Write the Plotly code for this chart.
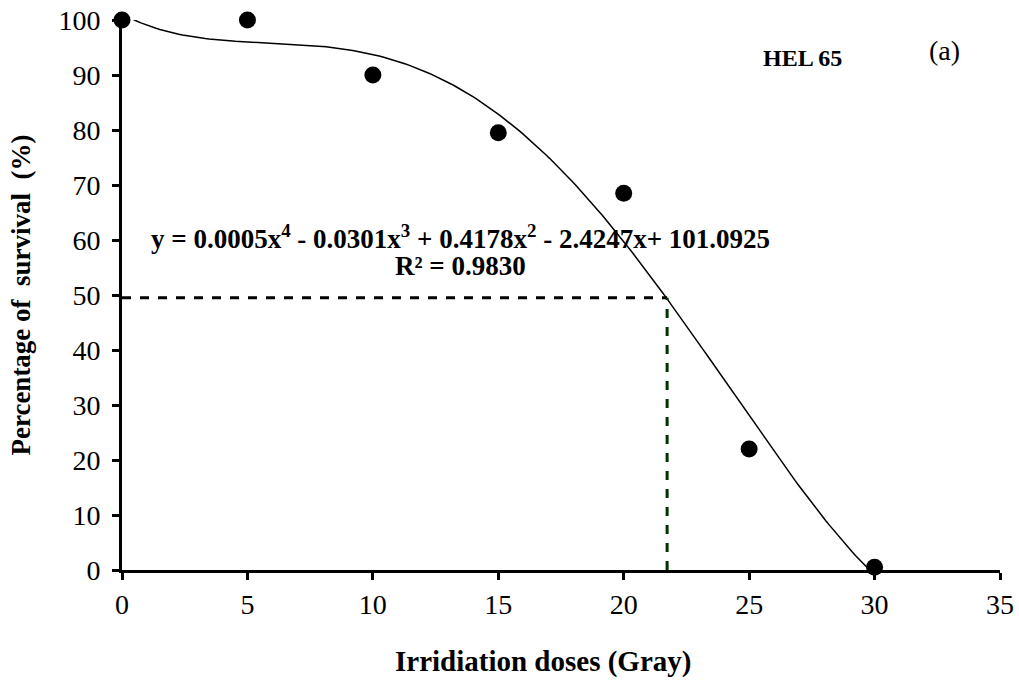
import numpy as np
import plotly.graph_objects as go

# observed survival per irradiation dose
doses = [0, 5, 10, 15, 20, 25, 30]
survival = [100, 100, 90, 79.5, 68.5, 22, 0.5]

# LD50 read-off
ld50_dose = 21.73
ld50_survival = 49.5

x_ticks = [0, 5, 10, 15, 20, 25, 30, 35]
y_ticks = [0, 10, 20, 30, 40, 50, 60, 70, 80, 90, 100]

equation = "y = 0.0005x<sup>4</sup> - 0.0301x<sup>3</sup> + 0.4178x<sup>2</sup> - 2.4247x+ 101.0925"
r2_text = "R² = 0.9830"

FONT = "Liberation Serif, Times New Roman, serif"

W, H = 1019, 681
L, R, T, B = 121.5, 19, 20, 111


def px_to_paper(px, py):
    # page pixel -> paper coords of the plot area
    return (px - L) / (W - L - R), (H - B - py) / (H - T - B)


# 4th order polynomial trendline fitted on the points (as the spreadsheet did)
coefs = np.polyfit(doses, survival, 4)
xs = np.linspace(0, 30, 200)
ys = np.polyval(coefs, xs)

fig = go.Figure()

fig.add_trace(go.Scatter(
    x=xs, y=ys, mode='lines',
    line=dict(color='black', width=1.5),
    hoverinfo='skip', cliponaxis=False
))

# dashed guides to the LD50
fig.add_trace(go.Scatter(
    x=[0, ld50_dose], y=[ld50_survival, ld50_survival], mode='lines',
    line=dict(color='black', width=3, dash='dash'), cliponaxis=False
))
fig.add_trace(go.Scatter(
    x=[ld50_dose, ld50_dose], y=[0, ld50_survival], mode='lines',
    line=dict(color='#003300', width=3, dash='dash'), cliponaxis=False
))

fig.add_trace(go.Scatter(
    x=doses, y=survival, mode='markers',
    marker=dict(size=17, color='black'),
    cliponaxis=False
))

labels = [
    ('<b>' + equation + '</b>', 460, 237, 27),
    ('<b>' + r2_text + '</b>', 460, 266, 27),
    ('<b>HEL 65</b>', 802, 58, 24),
    ('(a)', 944, 50, 28),
    ('<b>Irridiation doses (Gray)</b>', 543, 661, 29),
]
for text, px, py, size in labels:
    ax, ay = px_to_paper(px, py)
    fig.add_annotation(
        x=ax, y=ay, xref='paper', yref='paper', text=text,
        xanchor='center', yanchor='middle',
        showarrow=False, font=dict(family=FONT, size=size, color='black')
    )

fig.update_layout(
    width=W, height=H,
    margin=dict(l=L, r=R, t=T, b=B, autoexpand=False),
    paper_bgcolor='white', plot_bgcolor='white',
    showlegend=False,
    font=dict(family=FONT, size=28, color='black'),
    xaxis=dict(
        range=[0, 35], tickvals=x_ticks, showgrid=False, zeroline=False,
        showline=True, linecolor='black', linewidth=3, automargin=False,
        ticks='outside', ticklen=7, tickwidth=3, tickcolor='black',
    ),
    yaxis=dict(
        range=[0, 100], tickvals=y_ticks, showgrid=False, zeroline=False,
        showline=True, linecolor='black', linewidth=3, automargin=False,
        ticks='outside', ticklen=7, tickwidth=3, tickcolor='black',
        ticklabelstandoff=6,
        title=dict(text='<b>Percentage of  survival  (%)</b>', standoff=20,
                   font=dict(family=FONT, size=27)),
    ),
)

fig.write_html("out.html", config={'displayModeBar': False},
               post_script="document.body.style.margin='0px';")
